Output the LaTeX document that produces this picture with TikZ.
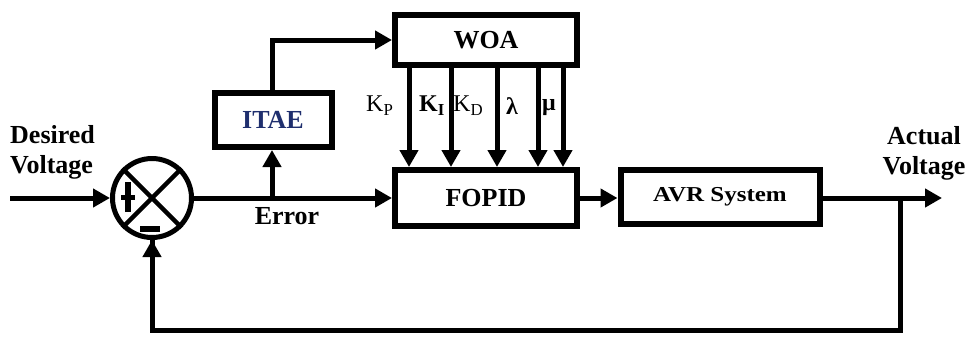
\documentclass[tikz,border=0pt]{standalone}
\usepackage{fontspec}
\setmainfont{Liberation Serif}
\usetikzlibrary{arrows.meta}
\definecolor{itaeblue}{HTML}{1F2F6E}
\begin{document}
\begin{tikzpicture}[x=1pt,y=-1pt,
  blk/.style={draw,line width=6pt,rectangle,inner sep=0pt,font=\fontsize{26}{30}\selectfont\bfseries},
  wire/.style={line width=5pt},
  arr/.style={line width=5pt,-{Triangle[length=17pt,width=18pt]}},
  lbl/.style={font=\fontsize{26}{30}\selectfont\bfseries,align=center,inner sep=0pt},
  gain/.style={font=\fontsize{24}{28}\selectfont,inner sep=0pt}]
\useasboundingbox (0,0) rectangle (973,338);
\fill[white] (0,0) rectangle (973,338);
% blocks
\node[blk,minimum width=182pt,minimum height=50pt] (woa) at (486,40) {WOA};
\node[blk,minimum width=182pt,minimum height=56pt] (fopid) at (486,198) {FOPID};
\node[blk,minimum width=199pt,minimum height=54pt] (avr) at (720,197) {\scalebox{1}[0.85]{\fontsize{25}{30}\selectfont\bfseries AVR System}};
\node[blk,minimum width=117pt,minimum height=54pt,text=itaeblue] (itae) at (273,120) {ITAE};
% summing junction
\node[draw,circle,line width=5pt,minimum size=79pt,inner sep=0pt] (sum) at (152,198) {};
\draw[line width=4.5pt] (sum.north east) -- (sum.south west);
\draw[line width=4.5pt] (sum.north west) -- (sum.south east);
\coordinate (plusc) at (128,197);
\coordinate (minusc) at (150,229);
\draw[line width=5.5pt] ([yshift=-15pt]plusc) -- ([yshift=15pt]plusc);
\draw[line width=5pt] ([xshift=-7pt]plusc) -- ([xshift=7pt]plusc);
\draw[line width=5.5pt] ([xshift=-10pt]minusc) -- ([xshift=10pt]minusc);
% coordinates
\coordinate (in) at (10,198);
\coordinate (br) at (272,198);
\coordinate (fb) at (900,198);
\coordinate (out) at (942,198);
\coordinate (fbd) at (900,330);
% connectors
\draw[arr] (in) -- (sum.west);
\draw[wire] (sum.east) -- (br);
\draw[arr] (br) -- (br -| fopid.west);
\draw[arr] (br) -- (br |- itae.south);
\draw[arr] (br |- itae.north) |- (woa.west);
\draw[arr] (fopid.east) -- (fopid.east -| avr.west);
\draw[arr] (avr.east |- out) -- (out);
\draw[wire] (fb) -- (fbd) -| (sum.south);
\draw[arr] (fbd -| sum.south) -- (sum.south);
% gain arrows
\foreach \xx in {409,451,497,538,563}{
  \draw[arr] (woa.south -| \xx,0) -- (fopid.north -| \xx,0);
}
% labels
\node[gain,anchor=west] at (366,106) {K\textsubscript{P}};
\node[gain,anchor=west] at (419,106) {\textbf{K\textsubscript{I}}};
\node[gain,anchor=west] at (453,106) {K\textsubscript{D}};
\node[gain,font=\fontsize{24}{28}\selectfont\bfseries] at (512,106) {λ};
\node[gain,font=\fontsize{24}{28}\selectfont\bfseries] at (549,108) {μ};
\node[lbl,anchor=west,align=left] (desired) at (10,152) {Desired\\Voltage};
\node[lbl] (actual) at (924,153) {Actual\\Voltage};
\node[lbl] (err) at (287,216) {Error};
\end{tikzpicture}
\end{document}
